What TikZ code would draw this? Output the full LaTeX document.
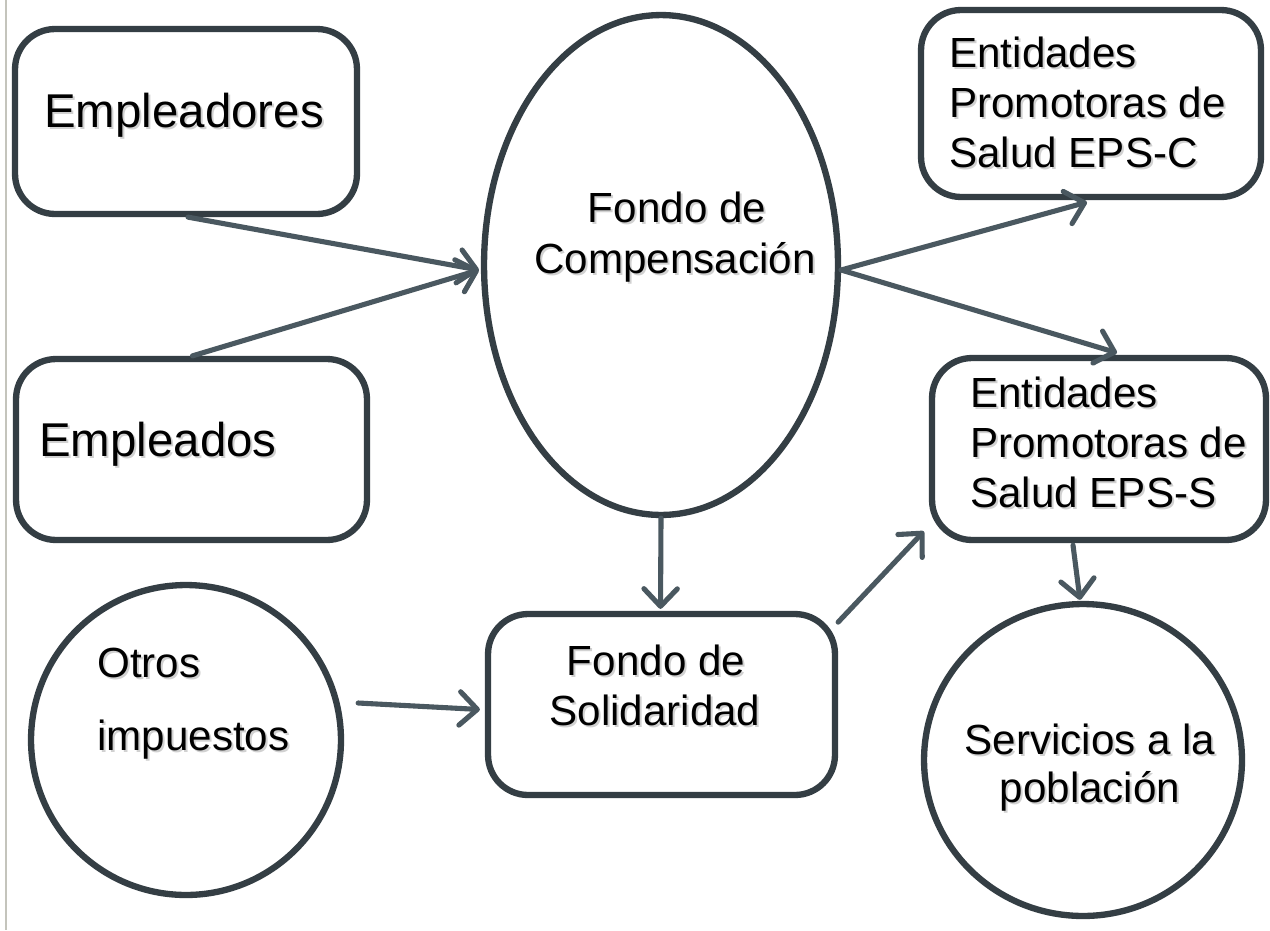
\documentclass[tikz,border=0pt]{standalone}
\usepackage{fontspec}
\setmainfont{Liberation Sans}
\usetikzlibrary{arrows.meta,shapes.geometric,calc}
\definecolor{edge}{HTML}{343E44}
\definecolor{arr}{HTML}{4A5860}
\definecolor{leftline}{HTML}{C4C4BC}
\tikzset{
  boxnode/.style={draw=edge, line width=3.6pt, rounded corners=0.8cm, inner sep=0pt, fill=white},
  ellnode/.style={draw=edge, line width=3.6pt, ellipse, inner sep=0pt, fill=white},
  conn/.style={draw=arr, line width=2.9pt, line cap=round, -{Straight Barb[length=10pt,width=19pt,round]}},
  txt/.style={inner sep=0pt, font=\fontsize{24}{29}\selectfont, text=black},
  bigtxt/.style={inner sep=0pt, font=\fontsize{27}{32}\selectfont, text=black},
  shd/.style={text=black!18}
}
\newcommand\txtline[5]{% style, anchor, name, position, text
  \node[#1,shd,anchor=#2] at ([shift={(2,2.5)}]#4) {#5};
  \node[#1,anchor=#2] (#3) at (#4) {#5};}
\begin{document}
\begin{tikzpicture}[x=0.02cm,y=-0.02cm]
\useasboundingbox (0,0) rectangle (1270,930);
\fill[white] (0,0) rectangle (1270,930);
\draw[leftline, line width=1.2pt] (6,0) -- (6,930);

% shapes
\node[boxnode, minimum width=6.84cm, minimum height=3.7cm] (emp) at (186,121.5) {};
\node[boxnode, minimum width=7.02cm, minimum height=3.62cm] (empd) at (191.5,449.5) {};
\node[ellnode, minimum width=7.08cm, minimum height=10cm] (fc) at (661,265) {};
\node[boxnode, minimum width=6.8cm, minimum height=3.74cm] (epsc) at (1091,103.5) {};
\node[boxnode, minimum width=6.68cm, minimum height=3.64cm] (epss) at (1099,449) {};
\node[boxnode, minimum width=6.94cm, minimum height=3.62cm] (fs) at (661.5,704.5) {};
\node[ellnode, minimum width=6.2cm, minimum height=6.2cm] (oi) at (186,740) {};
\node[ellnode, minimum width=6.36cm, minimum height=6.24cm] (sp) at (1083,760) {};

% texts
\txtline{bigtxt}{base west}{tEmp}{44,127}{Empleadores}
\txtline{bigtxt}{base west}{tEmpd}{39,456}{Empleados}
\txtline{txt}{base}{tFc1}{677,222}{Fondo de}
\txtline{txt}{base}{tFc2}{675,273}{Compensación}
\txtline{txt}{base west}{tC1}{949,67}{Entidades}
\txtline{txt}{base west}{tC2}{949,117}{Promotoras de}
\txtline{txt}{base west}{tC3}{949,167}{Salud EPS-C}
\txtline{txt}{base west}{tS1}{970,407}{Entidades}
\txtline{txt}{base west}{tS2}{970,457}{Promotoras de}
\txtline{txt}{base west}{tS3}{970,507}{Salud EPS-S}
\txtline{txt}{base}{tFs1}{656,675}{Fondo de}
\txtline{txt}{base}{tFs2}{655,725}{Solidaridad}
\txtline{txt}{base west}{tO1}{97,677}{Otros}
\txtline{txt}{base west}{tO2}{97,750}{impuestos}
\txtline{txt}{base}{tP1}{1090,754}{Servicios a la}
\txtline{txt}{base}{tP2}{1090,802}{población}

% connectors
\draw[conn] ([shift={(2,0)}]emp.south) -- ([shift={(-2,5)}]fc.west);
\draw[conn] ([shift={(1,0)}]empd.north) -- ([shift={(-2,5)}]fc.west);
\draw[conn] ([shift={(0,5)}]fc.east) -- ([shift={(-4,2)}]epsc.south);
\draw[conn] ([shift={(0,5)}]fc.east) -- ([shift={(18,-2)}]epss.north);
\draw[conn] (fc.south) -- ([shift={(-1,-2)}]fs.north);
\draw[conn] (fs.25.8) -- ([shift={(-5,3)}]epss.205);
\draw[conn] ([shift={(-26,2)}]epss.south) -- ([shift={(-3,-1)}]sp.north);
\draw[conn] ([shift={(14,-37)}]oi.east) -- ([shift={(-5,5)}]fs.west);
\end{tikzpicture}
\end{document}
